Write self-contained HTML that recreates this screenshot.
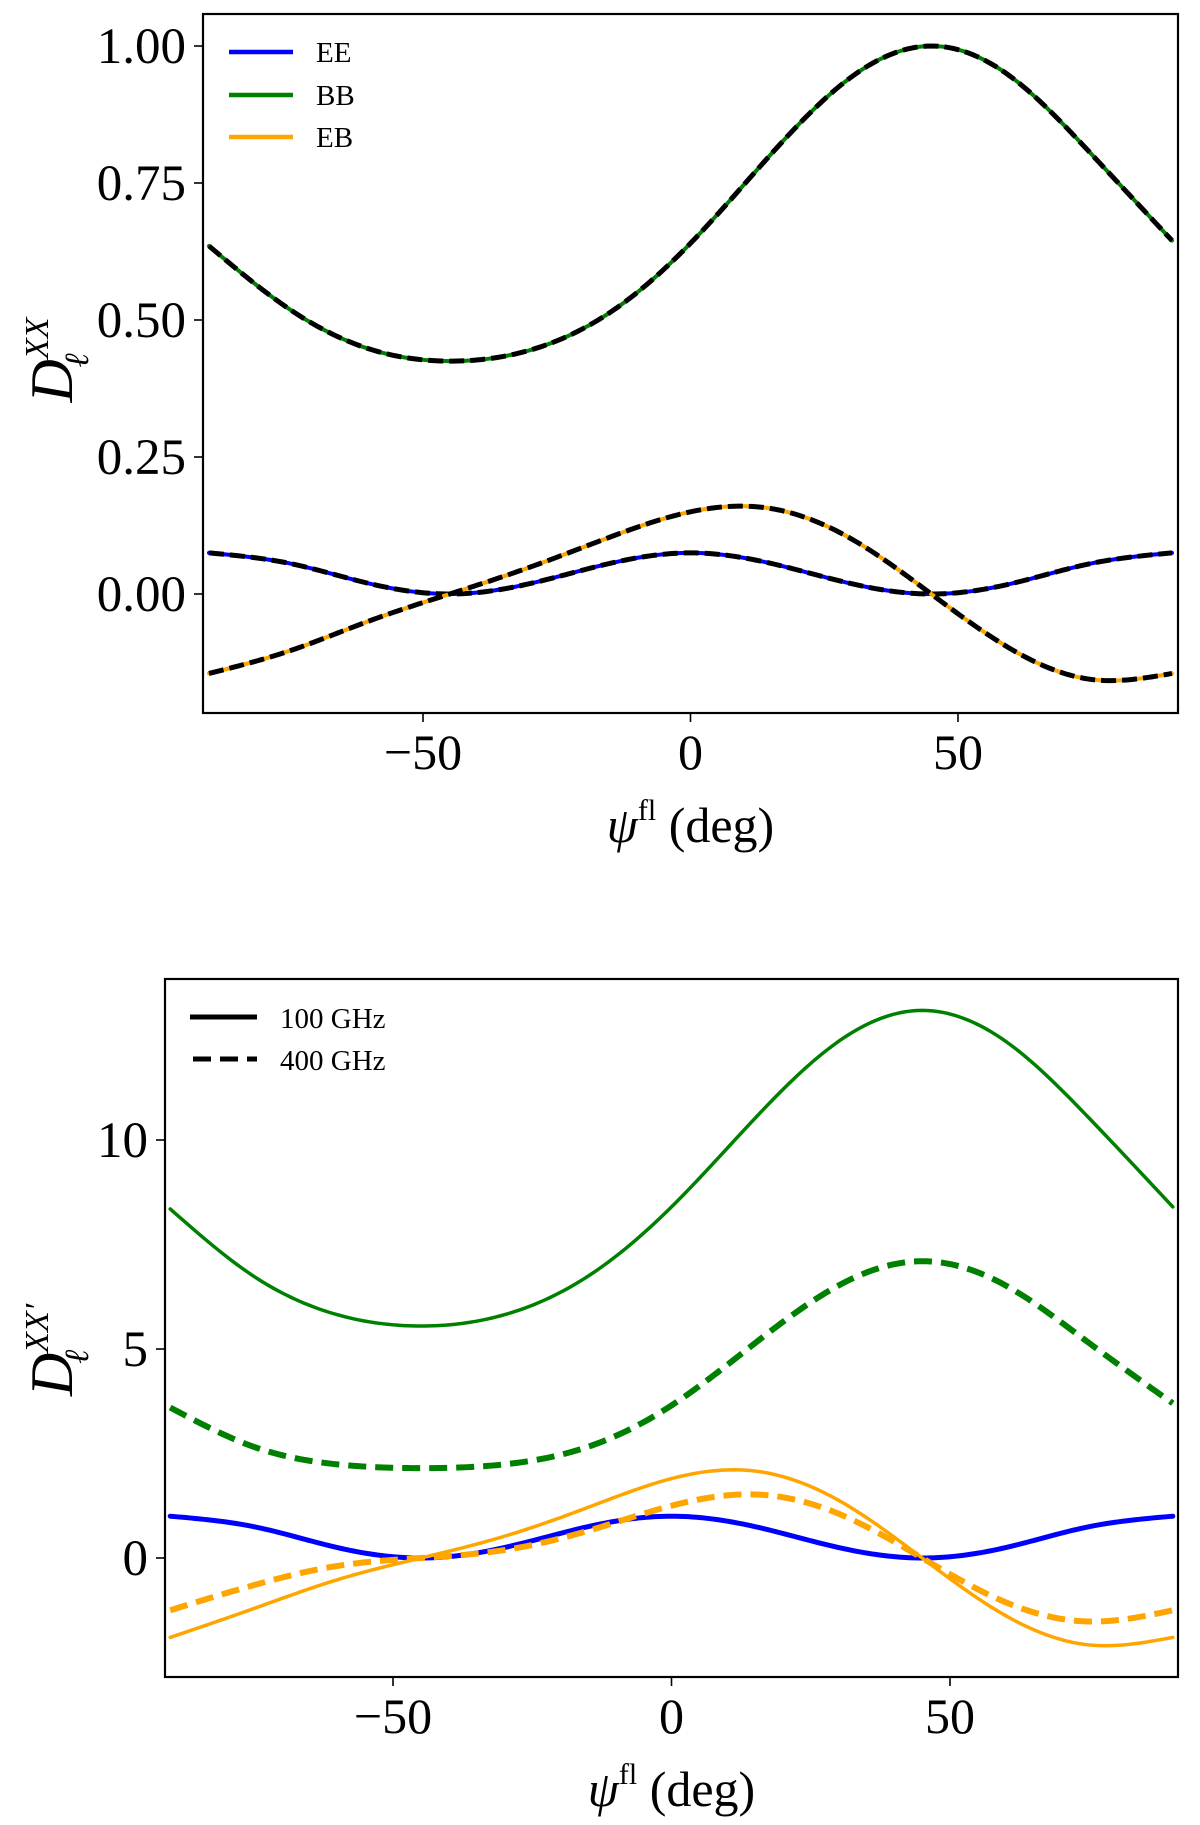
<!DOCTYPE html>
<html><head><meta charset="utf-8"><style>
html,body{margin:0;padding:0;background:#fff;}
svg{display:block;font-family:"Liberation Serif","DejaVu Serif",serif;}
</style></head><body>
<svg id="fig" width="1200" height="1825" viewBox="0 0 1200 1825" xmlns="http://www.w3.org/2000/svg">
<g id="topPanel"></g>
<g id="botPanel"></g>
</svg>
<script>
const psi = [-90,-75,-60,-45,-30,-15,0,15,30,45,60,75,90];
// top panel
const topEE = [0.075,0.056,0.019,0,0.019,0.056,0.075,0.056,0.019,0,0.019,0.056,0.075];
const topBB = [0.635,0.52,0.447,0.425,0.445,0.514,0.64,0.802,0.943,1.0,0.943,0.802,0.645];
const topEB = [-0.145,-0.104,-0.049,0,0.049,0.104,0.15,0.156,0.101,0,-0.101,-0.156,-0.145];
const topYTicks = [0,0.25,0.5,0.75,1.0];
const topYLabels = ["0.00","0.25","0.50","0.75","1.00"];
// bottom panel
const botEE = [1.0,0.75,0.25,0,0.25,0.75,1.0,0.75,0.25,0,0.25,0.75,1.0];
const botBB100 = [8.35,6.74,5.82,5.55,5.82,6.74,8.4,10.52,12.36,13.1,12.36,10.52,8.4];
const botBB400 = [3.6,2.66,2.24,2.15,2.24,2.66,3.65,5.14,6.52,7.1,6.52,5.14,3.7];
const botEB100 = [-1.9,-1.21,-0.52,0,0.52,1.21,1.9,2.08,1.38,0,-1.38,-2.08,-1.9];
const botEB400 = [-1.25,-0.65,-0.19,0,0.19,0.65,1.25,1.52,1.06,0,-1.06,-1.52,-1.25];
const botYTicks = [0,5,10];
const xTicks = [-50,0,50];
const xTickLabels = ["\u221250","0","50"];

const NS="http://www.w3.org/2000/svg";
function mk(tag,attrs,parent){const e=document.createElementNS(NS,tag);for(const k in attrs)e.setAttribute(k,attrs[k]);parent.appendChild(e);return e;}

function spline(xs,ys){
  const n=xs.length,h=[],al=[],l=[1],mu=[0],z=[0],c=new Array(n).fill(0),b=[],d=[];
  for(let i=0;i<n-1;i++)h.push(xs[i+1]-xs[i]);
  for(let i=1;i<n-1;i++)al[i]=3/h[i]*(ys[i+1]-ys[i])-3/h[i-1]*(ys[i]-ys[i-1]);
  for(let i=1;i<n-1;i++){l[i]=2*(xs[i+1]-xs[i-1])-h[i-1]*mu[i-1];mu[i]=h[i]/l[i];z[i]=(al[i]-h[i-1]*z[i-1])/l[i];}
  for(let j=n-2;j>=0;j--){c[j]=(z[j]||0)-(mu[j]||0)*c[j+1];b[j]=(ys[j+1]-ys[j])/h[j]-h[j]*(c[j+1]+2*c[j])/3;d[j]=(c[j+1]-c[j])/(3*h[j]);}
  return x=>{let i=0;while(i<n-2&&x>xs[i+1])i++;const t=x-xs[i];return ys[i]+b[i]*t+c[i]*t*t+d[i]*t*t*t;};
}
function pathFor(ys,X,Y){const f=spline(psi,ys);let s="";for(let k=0;k<=240;k++){const x=-90+180*k/240;s+=(k?"L":"M")+X(x).toFixed(2)+","+Y(f(x)).toFixed(2);}return s;}

function panel(g,cfg){
  const X=v=>cfg.x0+v*cfg.kx, Y=v=>cfg.y0-v*cfg.ky;
  const clip=mk('clipPath',{id:cfg.id+'clip'},g);mk('rect',{x:cfg.L,y:cfg.T,width:cfg.R-cfg.L,height:cfg.B-cfg.T},clip);
  const plot=mk('g',{'clip-path':'url(#'+cfg.id+'clip)'},g);
  
  
  cfg.series.forEach(s=>{
    const p=mk('path',{d:pathFor(s.data,X,Y),fill:'none',stroke:s.color,'stroke-width':s.w,'stroke-dasharray':s.dash||'none','stroke-linecap':s.dash?'butt':'round'},plot);
    
    
    if(s.overlay){const o=mk('path',{d:pathFor(s.data,X,Y),fill:'none',stroke:'#000','stroke-width':5,'stroke-dasharray':'15 6'},plot);
      
      }
  });
  const fr=mk('rect',{x:cfg.L,y:cfg.T,width:cfg.R-cfg.L,height:cfg.B-cfg.T,fill:'none',stroke:'#000','stroke-width':2.2},g);
  
  
  xTicks.forEach((v,i)=>{
    mk('line',{x1:X(v),x2:X(v),y1:cfg.B,y2:cfg.B+9,stroke:'#000','stroke-width':1.6},g);
    const t=mk('text',{x:X(v),y:cfg.B+56,'font-size':50,'text-anchor':'middle'},g);t.textContent=xTickLabels[i];
    
    
  });
  cfg.yticks.forEach((v,i)=>{
    mk('line',{x1:cfg.L-9,x2:cfg.L,y1:Y(v),y2:Y(v),stroke:'#000','stroke-width':1.6},g);
    const t=mk('text',{x:cfg.L-17,y:Y(v)+17,'font-size':51,'text-anchor':'end'},g);t.textContent=cfg.ylabels[i];
    
    
  });
  const xl=mk('text',{x:(cfg.L+cfg.R)/2,y:cfg.xlY,'font-size':50,'text-anchor':'middle'},g);
  xl.innerHTML='<tspan font-style="italic">ψ</tspan><tspan font-size="30" dy="-22">fl</tspan><tspan dy="22"> (deg)</tspan>';
  
  
  const yl=mk('text',{transform:'translate(72,'+cfg.ylY+') rotate(-90)','font-size':60,'text-anchor':'middle'},g);
  yl.innerHTML='<tspan font-style="italic">D</tspan><tspan font-size="34" font-style="italic" dy="-24">'+cfg.sup+'</tspan><tspan font-size="34" font-style="italic" dx="-'+cfg.supw+'" dy="40">ℓ</tspan>';
  
  
  return {X,Y};
}

const topG=document.getElementById('topPanel');
panel(topG,{id:'t',L:203,R:1178,T:14,B:713,x0:690.5,kx:5.35,y0:594,ky:548,yticks:topYTicks,ylabels:topYLabels,xlY:842,ylY:360,sup:'XX',supw:50,
  series:[{name:'ee-line',data:topEE,color:'#0000ff',w:4,overlay:true},{name:'bb-line',data:topBB,color:'#008000',w:4,overlay:true},{name:'eb-line',data:topEB,color:'#ffa500',w:4,overlay:true}]});
[['EE','#0000ff',52],['BB','#008000',95],['EB','#ffa500',137]].forEach(e=>{
  const l=mk('line',{x1:229,x2:293,y1:e[2],y2:e[2],stroke:e[1],'stroke-width':4.5},topG);
  
  
  const t=mk('text',{x:316,y:e[2]+10,'font-size':29},topG);t.textContent=e[0];
  
  
});

const botG=document.getElementById('botPanel');
panel(botG,{id:'b',L:165,R:1178,T:979,B:1677,x0:671.5,kx:5.57,y0:1558,ky:41.8,yticks:botYTicks,ylabels:["0","5","10"],xlY:1806,ylY:1350,sup:'XX′',supw:60,
  series:[
   {name:'bb-100ghz-line',data:botBB100,color:'#008000',w:3.5},
   {name:'bb-400ghz-line',data:botBB400,color:'#008000',w:6,dash:'18 9'},
   {name:'ee-line',data:botEE,color:'#0000ff',w:5},
   {name:'eb-100ghz-line',data:botEB100,color:'#ffa500',w:3.5},
   {name:'eb-400ghz-line',data:botEB400,color:'#ffa500',w:6,dash:'18 9'}]});
const l1=mk('line',{x1:190,x2:257,y1:1017,y2:1017,stroke:'#000','stroke-width':5},botG);


const l2=mk('line',{x1:193,x2:257,y1:1059,y2:1059,stroke:'#000','stroke-width':5,'stroke-dasharray':'18 9'},botG);


const t1=mk('text',{x:280,y:1028,'font-size':29},botG);t1.textContent='100 GHz';


const t2=mk('text',{x:280,y:1070,'font-size':29},botG);t2.textContent='400 GHz';


</script>
</body></html>
